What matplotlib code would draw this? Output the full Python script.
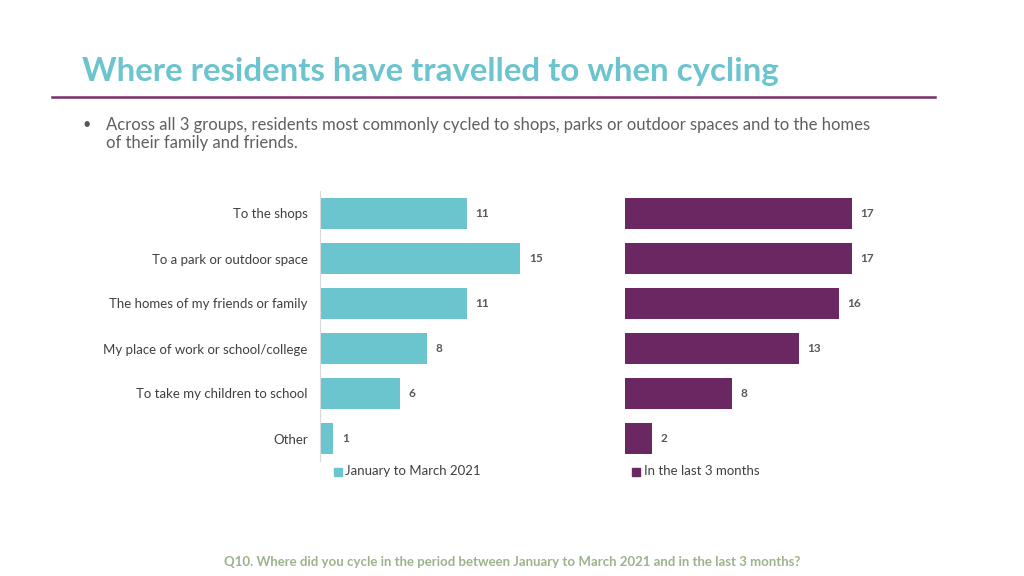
import matplotlib
matplotlib.use("Agg")
import matplotlib.pyplot as plt

plt.rcParams['font.family'] = ['Lato', 'DejaVu Sans']

categories = ["To the shops", "To a park or outdoor space", "The homes of my friends or family",
              "My place of work or school/college", "To take my children to school", "Other"]
jan_mar_2021 = [11, 15, 11, 8, 6, 1]
last_3_months = [17, 17, 16, 13, 8, 2]
series_names = ["January to March 2021", "In the last 3 months"]

teal = "#6BC5CF"
purple = "#6B2762"
label_grey = "#595959"

W, H = 1024, 576
fig = plt.figure(figsize=(10.24, 5.76), dpi=100)


def px(x0, y0, x1, y1):
    # pixel box -> figure coords
    return [x0 / W, 1 - y1 / H, (x1 - x0) / W, (y1 - y0) / H]


def draw_panel(ax, values, color, show_labels):
    y = range(len(categories))
    ax.barh(y, values, height=0.67, color=color)
    ax.set_xlim(0, 20)
    ax.set_ylim(len(categories) - 0.5, -0.5)
    for s in ["top", "right", "bottom"]:
        ax.spines[s].set_visible(False)
    ax.spines["left"].set_color("#D9D9D9")
    if not show_labels:
        ax.spines["left"].set_visible(False)
    ax.set_xticks([])
    ax.set_yticks(list(y))
    if show_labels:
        ax.set_yticklabels(categories, fontsize=9.5, color="#404040")
    else:
        ax.set_yticklabels([])
    ax.tick_params(axis="y", length=0, pad=9)
    for i, v in enumerate(values):
        ax.text(v + 0.65, i, str(v), va="center", ha="left", fontsize=8.5,
                fontweight="bold", color=label_grey)


ax1 = fig.add_axes(px(320, 191, 587, 461))
draw_panel(ax1, jan_mar_2021, teal, True)
ax2 = fig.add_axes(px(625, 191, 892, 461))
draw_panel(ax2, last_3_months, purple, False)

# legends
fig.patches.append(plt.Rectangle((334 / W, 1 - 476 / H), 8 / W, 8 / H,
                                 transform=fig.transFigure, color=teal))
fig.text(345 / W, 1 - 471 / H, series_names[0], fontsize=9.5, color="#404040", va="center")
fig.patches.append(plt.Rectangle((632 / W, 1 - 476 / H), 8 / W, 8 / H,
                                 transform=fig.transFigure, color=purple))
fig.text(644 / W, 1 - 471 / H, series_names[1], fontsize=9.5, color="#404040", va="center")

# title and rule
fig.text(82 / W, 1 - 72 / H, "Where residents have travelled to when cycling",
         fontsize=23.8, fontweight="bold", color="#6BC4CE", va="center")
fig.add_artist(plt.Line2D([52 / W, 935 / W], [1 - 97 / H, 1 - 97 / H],
                          color="#7B2D6B", lw=1.8))

fig.text(82 / W, 1 - 125 / H, "\u2022", fontsize=10.5, color="#595959", va="center")
fig.text(106 / W, 1 - 125 / H,
         "Across all 3 groups, residents most commonly cycled to shops, parks or outdoor spaces and to the homes",
         fontsize=12, color="#5F5F5F", va="center")
fig.text(106 / W, 1 - 143 / H, "of their family and friends.",
         fontsize=12, color="#5F5F5F", va="center")

fig.text(512 / W, 1 - 562 / H,
         "Q10. Where did you cycle in the period between January to March 2021 and in the last 3 months?",
         fontsize=9.5, fontweight="bold", color="#9DB38C", va="center", ha="center")

fig.savefig("out.png", dpi=100)
